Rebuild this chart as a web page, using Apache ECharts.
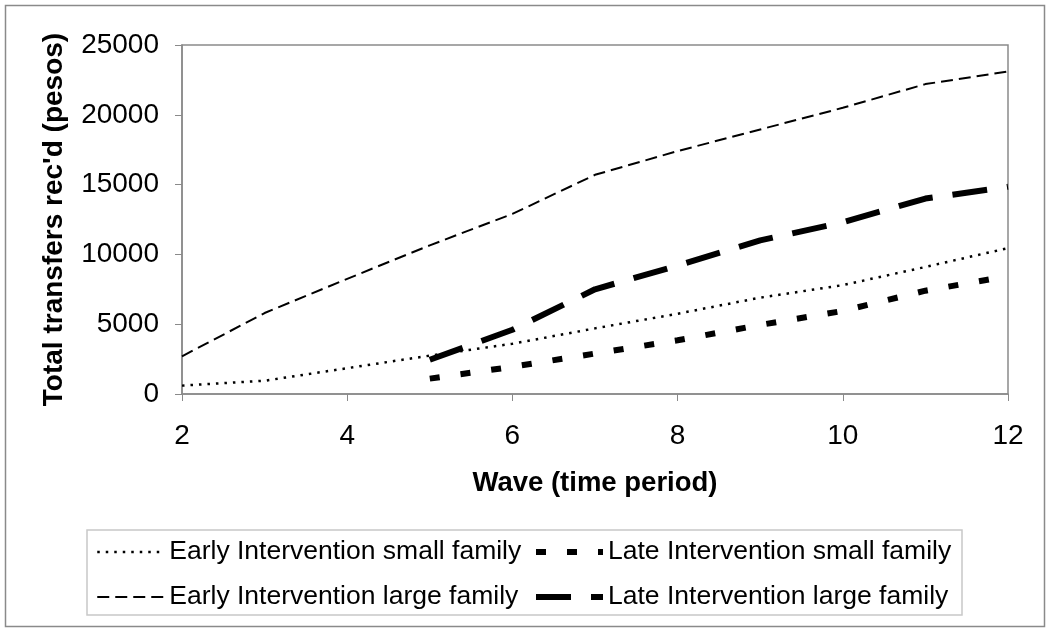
<!DOCTYPE html>
<html>
<head>
<meta charset="utf-8">
<script src="https://cdn.jsdelivr.net/npm/echarts@6/dist/echarts.min.js"></script>
<style>
html,body{margin:0;padding:0;background:#fff;}
#chart{width:1050px;height:632px;}
</style>
</head>
<body>
<div id="chart"></div>
<script>
// ---- data ----
var waves = [2, 3, 4, 5, 6, 7, 8, 9, 10, 11, 12];
var earlySmall = [600, 950, 1850, 2750, 3600, 4700, 5750, 6900, 7800, 9100, 10450];
var earlyLarge = [2700, 5800, 8250, 10650, 12900, 15700, 17400, 18950, 20500, 22200, 23100];
var lateSmall = [null, null, null, 1100, 1950, 2900, 3850, 4950, 5950, 7400, 8450];
var lateLarge = [null, null, null, 2450, 4600, 7500, 9200, 11000, 12300, 14000, 14850];
var seriesNames = [
  'Early Intervention small family',
  'Early Intervention large family',
  'Late Intervention small family',
  'Late Intervention large family'
];
var xTicks = [2, 4, 6, 8, 10, 12];
var yTicks = [0, 5000, 10000, 15000, 20000, 25000];

function pairs(vals) {
  var out = [];
  for (var i = 0; i < waves.length; i++) {
    if (vals[i] !== null) out.push([waves[i], vals[i]]);
  }
  return out;
}

var FONT = '"Liberation Sans", Arial, sans-serif';
var GRAY = '#8a8a8a';

var styles = [
  {color: '#000', width: 2.5, type: [2.5, 6]},
  {color: '#000', width: 2, type: [12, 6]},
  {color: '#000', width: 6, type: [10, 21]},
  {color: '#000', width: 6, type: [35, 20]}
];

var chart = echarts.init(document.getElementById('chart'), null, {renderer: 'canvas'});

var legendText = {fontFamily: FONT, fontSize: 26.5, color: '#000', lineHeight: 30};

function legendItem(i) {
  return {name: seriesNames[i], lineStyle: styles[i], itemStyle: {opacity: 0}};
}

chart.setOption({
  animation: false,
  backgroundColor: '#fff',
  graphic: [
    {type: 'rect', shape: {x: 5.5, y: 5.5, width: 1039, height: 621}, style: {fill: 'none', stroke: GRAY, lineWidth: 1.5}, silent: true},
    {type: 'rect', shape: {x: 87, y: 530, width: 875, height: 85}, style: {fill: 'none', stroke: '#c8c8c8', lineWidth: 1.5}, silent: true}
  ],
  grid: {
    left: 182, right: 42, top: 45, bottom: 238,
    show: true, borderColor: GRAY, borderWidth: 1.5, backgroundColor: 'transparent'
  },
  legend: [
    {
      data: [legendItem(0), legendItem(1)],
      orient: 'vertical', left: 96, top: 537, padding: 0,
      itemWidth: 67, itemHeight: 14, itemGap: 15,
      itemStyle: {opacity: 0},
      textStyle: legendText
    },
    {
      data: [legendItem(2), legendItem(3)],
      orient: 'vertical', left: 533, top: 537, padding: 0,
      itemWidth: 67, itemHeight: 14, itemGap: 15,
      itemStyle: {opacity: 0},
      textStyle: legendText
    }
  ],
  xAxis: {
    type: 'value', min: 2, max: 12, interval: 2,
    name: 'Wave (time period)', nameLocation: 'middle', nameGap: 75,
    nameTextStyle: {fontFamily: FONT, fontSize: 27.5, fontWeight: 'bold', color: '#000'},
    axisLine: {lineStyle: {color: GRAY, width: 1.5}},
    axisTick: {show: true, length: 7, lineStyle: {color: GRAY, width: 1}},
    axisLabel: {fontFamily: FONT, fontSize: 28, color: '#000', margin: 28,
      formatter: function (v) { return xTicks.indexOf(v) >= 0 ? String(v) : ''; }},
    splitLine: {show: false}
  },
  yAxis: {
    type: 'value', min: 0, max: 25000, interval: 5000,
    name: "Total transfers rec'd (pesos)", nameLocation: 'middle', nameGap: 114, nameRotate: 90,
    nameTextStyle: {fontFamily: FONT, fontSize: 28, fontWeight: 'bold', color: '#000'},
    axisLine: {show: true, lineStyle: {color: GRAY, width: 1.5}},
    axisTick: {show: true, length: 7, lineStyle: {color: GRAY, width: 1}},
    axisLabel: {fontFamily: FONT, fontSize: 28, color: '#000', margin: 23,
      formatter: function (v) { return yTicks.indexOf(v) >= 0 ? String(v) : ''; }},
    splitLine: {show: false}
  },
  series: [
    {name: seriesNames[0], type: 'line', data: pairs(earlySmall), symbol: 'none', color: '#000', lineStyle: styles[0]},
    {name: seriesNames[1], type: 'line', data: pairs(earlyLarge), symbol: 'none', color: '#000', lineStyle: styles[1]},
    {name: seriesNames[2], type: 'line', data: pairs(lateSmall), symbol: 'none', color: '#000', lineStyle: styles[2]},
    {name: seriesNames[3], type: 'line', data: pairs(lateLarge), symbol: 'none', color: '#000', lineStyle: styles[3]}
  ]
});
</script>
</body>
</html>
